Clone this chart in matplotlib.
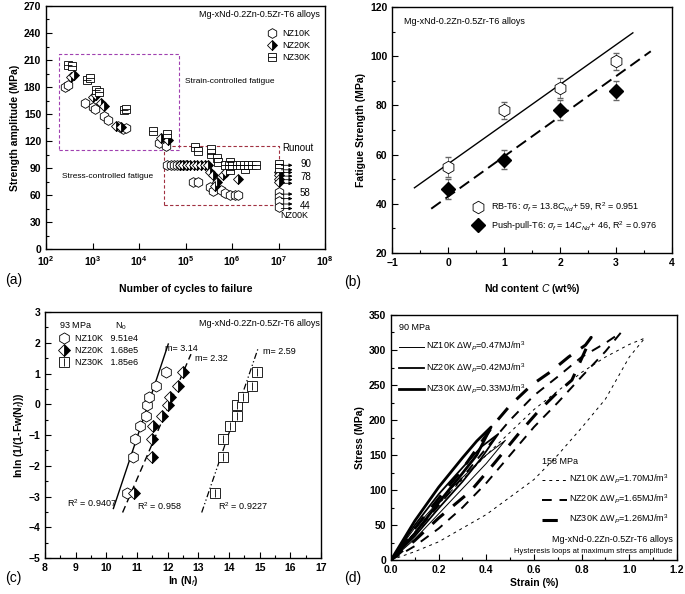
import matplotlib
matplotlib.use("Agg")
import matplotlib.pyplot as plt
from matplotlib.legend_handler import HandlerTuple

plt.rcParams["font.family"] = ["Liberation Sans", "DejaVu Sans"]
plt.rcParams["mathtext.fontset"] = "custom"
plt.rcParams["mathtext.rm"] = "Liberation Sans"
plt.rcParams["mathtext.it"] = "Liberation Sans:italic"
plt.rcParams["mathtext.bf"] = "Liberation Sans:bold"

# ---------------- (a) S-N data ----------------
nz10_N = [256, 302, 700, 1010, 1150, 1790, 2130, 3480, 4450, 5250, 27500, 38000,
          4.0e4, 4.8e4, 5.6e4, 6.5e4, 7.5e4, 8.8e4, 1.0e5,
          1.48e5, 1.88e5, 3.4e5, 3.95e5, 5.9e5, 7.0e5, 9.1e5, 1.16e6, 1.36e6]
nz10_S = [180, 182, 162, 158, 156, 148, 143, 137, 133, 134, 118, 114,
          93, 93, 93, 93, 93, 93, 93,
          75, 75, 69, 64, 66, 62, 60, 60, 60]
nz20_N = [347, 408, 1010, 1190, 1520, 1790, 3200, 4100, 29600, 41500,
          7.5e4, 9e4, 1.05e5, 1.25e5, 1.5e5, 1.8e5, 2.15e5, 2.6e5, 3.1e5,
          3.4e5, 3.95e5, 4.7e5, 4.3e5, 6.4e5, 7.6e5, 1.36e6]
nz20_S = [191, 193, 169, 171, 162, 159, 137, 136, 123, 121,
          93, 93, 93, 93, 93, 93, 93, 93, 93,
          86, 82, 75, 70, 82, 86, 78]
nz30_N = [293, 360, 760, 895, 1190, 1400, 4800, 5250, 20300, 39600,
          1.6e5, 1.9e5, 3.6e5, 3.6e5, 4.7e5, 5.0e5, 9.1e5, 9.1e5, 1.9e6,
          7e5, 8.5e5, 1.0e6, 1.25e6, 1.5e6, 1.8e6, 2.2e6, 2.7e6, 3.3e6]
nz30_S = [205, 203, 188, 190, 177, 174, 154, 156, 131, 128,
          113, 109, 106, 111, 101, 97, 97, 88, 89,
          93, 93, 93, 93, 93, 93, 93, 93, 93]
runout_N = 1e7
runout_nz30 = [94, 90]
runout_nz20 = [86, 82, 78, 74]
runout_nz10 = [63, 58, 53, 47]
runout_arrows = [93, 88, 85, 81, 77, 73, 61, 56, 50, 45]
runout_labels = ["90", "78", "58", "44"]
runout_label_S = [94, 80, 62, 48]
strain_box_N, strain_box_S = [190, 7.3e4], [110, 217]
stress_box_N, stress_box_S = [3.5e4, 1e7], [49, 114.6]

# ---------------- (b) fatigue strength vs Nd ----------------
nd = [0, 1, 2, 3]
rb_sf = [55, 78, 87, 98]
rb_err = [4, 3.5, 4, 3.5]
pp_sf = [46, 58, 78, 86]
pp_err = [4, 4, 4, 4]
rb_fit_x, rb_fit_y = [-0.6, 3.3], [46.5, 109.5]
pp_fit_x, pp_fit_y = [-0.3, 3.62], [38, 102]

# ---------------- (c) Weibull plot ----------------
w_y = [-2.87, -1.73, -1.14, -0.71, -0.37, -0.04, 0.25, 0.58, 1.04]
w_nz10 = [10.68, 10.86, 10.95, 11.10, 11.29, 11.32, 11.40, 11.62, 11.95]
w_nz20 = [10.90, 11.48, 11.48, 11.53, 11.80, 12.02, 12.08, 12.35, 12.49]
w_nz30 = [13.54, 13.79, 13.82, 14.03, 14.27, 14.27, 14.45, 14.74, 14.90]
fit10_x, fit10_y = [10.23, 12.02], [-3.39, 1.96]
fit20_x, fit20_y = [10.53, 12.76], [-3.52, 1.63]
fit30_x, fit30_y = [13.11, 14.96], [-3.52, 1.85]
n0_vals = ["9.51e4", "1.68e5", "1.85e6"]
m_vals = ["m= 3.14", "m= 2.32", "m= 2.59"]
m_pos = [(11.92, 1.8), (12.9, 1.5), (15.12, 1.7)]
r2_vals = ["R$^2$ = 0.9407", "R$^2$ = 0.958", "R$^2$ = 0.9227"]
r2_pos = [(8.71, -3.2), (10.99, -3.3), (13.65, -3.3)]

# ---------------- (d) hysteresis loops ----------------
# 90 MPa (solid)
h90_10_x = [0, 0.1, 0.2, 0.3, 0.4, 0.48, 0.4, 0.3, 0.2, 0.1, 0]
h90_10_y = [0, 30, 66, 102, 138, 171, 150, 118, 84, 46, 0]
h90_20_x = [0, 0.1, 0.2, 0.3, 0.38, 0.45, 0.38, 0.3, 0.2, 0.1, 0]
h90_20_y = [0, 34, 74, 112, 146, 180, 162, 132, 94, 50, 0]
h90_30_x = [0, 0.1, 0.2, 0.3, 0.36, 0.42, 0.36, 0.3, 0.2, 0.1, 0]
h90_30_y = [0, 38, 82, 124, 150, 190, 170, 146, 104, 56, 0]
# 158 MPa (dashed)
h158_10_x = [0, 0.1, 0.2, 0.4, 0.6, 0.7, 0.8, 0.9, 1.0, 1.065,
             1.0, 0.9, 0.8, 0.6, 0.4, 0.2, 0.1, 0]
h158_10_y = [0, 12, 26, 65, 115, 150, 189, 230, 290, 317,
             308, 290, 268, 215, 150, 80, 40, 0]
h158_20_x = [0, 0.1, 0.2, 0.3, 0.4, 0.5, 0.6, 0.7, 0.8, 0.9, 0.965,
             0.9, 0.8, 0.7, 0.6, 0.5, 0.4, 0.3, 0.2, 0.1, 0]
h158_20_y = [0, 20, 45, 75, 110, 150, 190, 225, 262, 298, 325,
             310, 290, 262, 235, 200, 160, 118, 78, 38, 0]
h158_30_x = [0, 0.1, 0.2, 0.333, 0.433, 0.532, 0.617, 0.688, 0.759, 0.84,
             0.816, 0.745, 0.67, 0.59, 0.5, 0.43, 0.3, 0.2, 0.1, 0]
h158_30_y = [0, 28, 60, 98, 138, 179, 212, 236, 257, 318,
             307, 290, 269, 250, 221, 193, 130, 88, 45, 0]
wp90 = ["0.47", "0.42", "0.33"]
wp158 = ["1.70", "1.65", "1.26"]

names = ["NZ10K", "NZ20K", "NZ30K"]
ALLOY = "Mg-xNd-0.2Zn-0.5Zr-T6 alloys"
TUPLE_H = {tuple: HandlerTuple(ndivide=1)}


def hexm(ax, x, y, ms=7):
    return ax.plot(x, y, ls="none", marker="h", mfc="white", mec="k", mew=0.6, ms=ms)[0]


def diam(ax, x, y, ms=7):
    return ax.plot(x, y, ls="none", marker="D", fillstyle="right", mfc="k",
                   markerfacecoloralt="white", mec="k", mew=0.6, ms=ms * 0.8)[0]


def sqm(ax, x, y, inner="_", ms=7):
    a = ax.plot(x, y, ls="none", marker="s", mfc="white", mec="k", mew=0.6, ms=ms * 0.85)[0]
    b = ax.plot(x, y, ls="none", marker=inner, mec="k", mew=0.6, ms=ms * 0.8)[0]
    return (a, b)


def style(ax):
    ax.tick_params(direction="in", which="both", labelsize=7.5, width=0.8)
    ax.tick_params(which="major", length=4)
    ax.tick_params(which="minor", length=2)
    for lab in ax.get_xticklabels() + ax.get_yticklabels():
        lab.set_fontweight("bold")
    for s in ax.spines.values():
        s.set_linewidth(1.0)


fig = plt.figure(figsize=(6.85, 5.94), dpi=100)
axa = fig.add_axes([0.0672, 0.5808, 0.4073, 0.4091])
axb = fig.add_axes([0.5723, 0.5741, 0.4088, 0.4141])
axc = fig.add_axes([0.0657, 0.0606, 0.4029, 0.4141])
axd = fig.add_axes([0.5708, 0.0572, 0.4175, 0.4125])

# ---- (a)
ax = axa
ax.plot([strain_box_N[0], strain_box_N[1], strain_box_N[1], strain_box_N[0], strain_box_N[0]],
        [strain_box_S[0], strain_box_S[0], strain_box_S[1], strain_box_S[1], strain_box_S[0]],
        ls=(0, (3, 2)), color="#a040b0", lw=0.8)
ax.plot([stress_box_N[0], stress_box_N[1], stress_box_N[1], stress_box_N[0], stress_box_N[0]],
        [stress_box_S[0], stress_box_S[0], stress_box_S[1], stress_box_S[1], stress_box_S[0]],
        ls=(0, (3, 2)), color="#a03040", lw=0.8)
for s in runout_arrows:
    ax.annotate("", xy=(runout_N * 2.3, s), xytext=(runout_N, s),
                arrowprops=dict(arrowstyle="-|>", lw=0.6, color="k", mutation_scale=5))
h1 = hexm(ax, nz10_N + [runout_N] * len(runout_nz10), nz10_S + runout_nz10)
h2 = diam(ax, nz20_N + [runout_N] * len(runout_nz20), nz20_S + runout_nz20)
h3 = sqm(ax, nz30_N + [runout_N] * len(runout_nz30), nz30_S + runout_nz30, "_")
ax.set_xscale("log")
ax.set_xlim(1e2, 1e8)
ax.set_ylim(0, 270)
ax.set_yticks(range(0, 271, 30))
ax.set_yticks(range(15, 270, 30), minor=True)
ax.xaxis.set_minor_locator(matplotlib.ticker.NullLocator())
ax.text(9.8e4, 185, "Strain-controlled fatigue", fontsize=6)
ax.text(220, 79, "Stress-controlled fatigue", fontsize=6)
ax.text(1.23e7, 109, "Runout", fontsize=7)
for lab, s in zip(runout_labels, runout_label_S):
    ax.text(2.9e7, s, lab, fontsize=7, va="center")
ax.text(1.1e7, 37, "NZ00K", fontsize=6.5, va="center")
ax.text(0.98, 0.965, ALLOY, transform=ax.transAxes, fontsize=6.5, ha="right", va="center")
ax.legend([h1, h2, h3], names, loc="upper left", bbox_to_anchor=(0.76, 0.94), frameon=False,
          fontsize=6.5, handlelength=1.2, handletextpad=0.6, labelspacing=0.35,
          handler_map=TUPLE_H)
ax.set_ylabel("Strength amplitude (MPa)", fontsize=7.5, fontweight="bold", labelpad=3)
ax.set_xlabel("Number of cycles to failure", fontsize=7.5, fontweight="bold", labelpad=12)
style(ax)

# ---- (b)
ax = axb
ax.plot(rb_fit_x, rb_fit_y, color="k", lw=1.0)
ax.plot(pp_fit_x, pp_fit_y, color="k", lw=1.4, ls=(0, (6, 3)))
ax.errorbar(nd, rb_sf, yerr=rb_err, ls="none", ecolor="#666666", elinewidth=0.6, capsize=2)
ax.errorbar(nd, pp_sf, yerr=pp_err, ls="none", ecolor="#666666", elinewidth=0.6, capsize=2)
b1 = hexm(ax, nd, rb_sf, ms=9)
b2 = ax.plot(nd, pp_sf, ls="none", marker="D", color="k", ms=7)[0]
ax.set_xlim(-1, 4)
ax.set_ylim(20, 120)
ax.set_xticks(range(-1, 5))
ax.set_xticks([-0.5, 0.5, 1.5, 2.5, 3.5], minor=True)
ax.set_yticks(range(20, 121, 20))
ax.set_yticks(range(30, 120, 20), minor=True)
ax.text(-0.78, 114, ALLOY, fontsize=6.5, va="center")
ax.legend([b1, b2], [r"RB-T6: $\sigma_f$ = 13.8$C_{Nd}$+ 59, R$^2$ = 0.951",
                     r"Push-pull-T6: $\sigma_f$ = 14$C_{Nd}$+ 46, R$^2$ = 0.976"],
          loc="lower left", bbox_to_anchor=(0.26, 0.05), frameon=False, fontsize=6.5,
          handlelength=1.2, handletextpad=0.8, labelspacing=0.6)
ax.set_ylabel("Fatigue Strength (MPa)", fontsize=7.5, fontweight="bold", labelpad=3)
ax.set_xlabel(r"Nd content $C$ (wt%)", fontsize=7.5, fontweight="bold", labelpad=10)
style(ax)

# ---- (c)
ax = axc
ax.plot(fit10_x, fit10_y, color="k", lw=1.0)
ax.plot(fit20_x, fit20_y, color="k", lw=1.0, ls=(0, (5, 3)))
ax.plot(fit30_x, fit30_y, color="k", lw=0.9, ls=(0, (5, 2, 1, 2, 1, 2)))
c1 = hexm(ax, w_nz10, w_y, ms=8)
c2 = diam(ax, w_nz20, w_y, ms=8)
c3 = sqm(ax, w_nz30, w_y, "|", ms=8)
for t, p in zip(m_vals, m_pos):
    ax.text(p[0], p[1], t, fontsize=6.5, va="center")
for t, p in zip(r2_vals, r2_pos):
    ax.text(p[0], p[1], t, fontsize=6.5, va="center")
ax.set_xlim(8, 17)
ax.set_ylim(-5, 3)
ax.set_xticks(range(8, 18))
ax.set_xticks([x + 0.5 for x in range(8, 17)], minor=True)
ax.set_yticks(range(-5, 4))
ax.set_yticks([y + 0.5 for y in range(-5, 3)], minor=True)
ax.text(0.995, 0.955, ALLOY, transform=ax.transAxes, fontsize=6.5, ha="right", va="center")
ax.legend([c1, c2, c3], [f"{n}   {v}" for n, v in zip(names, n0_vals)],
          title="93 MPa          N$_0$", title_fontsize=6.5, loc="upper left",
          bbox_to_anchor=(0.02, 1.0), frameon=False, fontsize=6.5, handlelength=1.2,
          handletextpad=0.6, labelspacing=0.3, alignment="left", handler_map=TUPLE_H)
ax.set_ylabel("lnln (1/(1-Fw(N$_f$)))", fontsize=7.5, fontweight="bold", labelpad=2)
ax.set_xlabel("ln (N$_f$)", fontsize=7.5, fontweight="bold", labelpad=1)
style(ax)

# ---- (d)
ax = axd
l90 = []
for xs, ys, lw in [(h90_10_x, h90_10_y, 0.7), (h90_20_x, h90_20_y, 1.3), (h90_30_x, h90_30_y, 2.0)]:
    l90.append(ax.plot(xs, ys, color="k", lw=lw)[0])
l158 = []
for xs, ys, lw, ls in [(h158_10_x, h158_10_y, 0.7, (0, (3, 4))),
                       (h158_20_x, h158_20_y, 1.4, (0, (5, 4))),
                       (h158_30_x, h158_30_y, 2.2, (0, (5, 4)))]:
    l158.append(ax.plot(xs, ys, color="k", lw=lw, ls=ls)[0])
ax.set_xlim(0, 1.2)
ax.set_ylim(0, 350)
ax.set_xticks([0, 0.2, 0.4, 0.6, 0.8, 1.0, 1.2])
ax.set_xticks([0.1, 0.3, 0.5, 0.7, 0.9, 1.1], minor=True)
ax.set_yticks(range(0, 351, 50))
ax.set_yticks(range(25, 350, 50), minor=True)
ax.xaxis.set_major_formatter(matplotlib.ticker.FormatStrFormatter("%.1f"))
leg1 = ax.legend(l90, [f"{n} $\\Delta$W$_P$={w}MJ/m$^3$" for n, w in zip(names, wp90)],
                 title="90 MPa", title_fontsize=6.5, loc="upper left", bbox_to_anchor=(0.0, 1.0),
                 frameon=False, fontsize=6.5, handlelength=2.8, handletextpad=0.2,
                 labelspacing=0.9, alignment="left")
ax.add_artist(leg1)
ax.legend(l158, [f"{n} $\\Delta$W$_P$={w}MJ/m$^3$" for n, w in zip(names, wp158)],
          title="158 MPa", title_fontsize=6.5, loc="lower right", bbox_to_anchor=(1.0, 0.105),
          frameon=False, fontsize=6.5, handlelength=2.8, handletextpad=0.2,
          labelspacing=0.75, alignment="left")
ax.text(0.985, 0.085, ALLOY, transform=ax.transAxes, fontsize=6.5, ha="right", va="center")
ax.text(0.985, 0.035, "Hysteresis loops at maximum stress amplitude", transform=ax.transAxes,
        fontsize=5.5, ha="right", va="center")
ax.set_ylabel("Stress (MPa)", fontsize=7.5, fontweight="bold", labelpad=3)
ax.set_xlabel("Strain (%)", fontsize=7.5, fontweight="bold", labelpad=2)
style(ax)

for lab, xy in [("(a)", (0.008, 0.528)), ("(b)", (0.503, 0.525)),
                ("(c)", (0.008, 0.027)), ("(d)", (0.503, 0.027))]:
    fig.text(xy[0], xy[1], lab, fontsize=10, va="center")

fig.savefig("out.png", dpi=100)
